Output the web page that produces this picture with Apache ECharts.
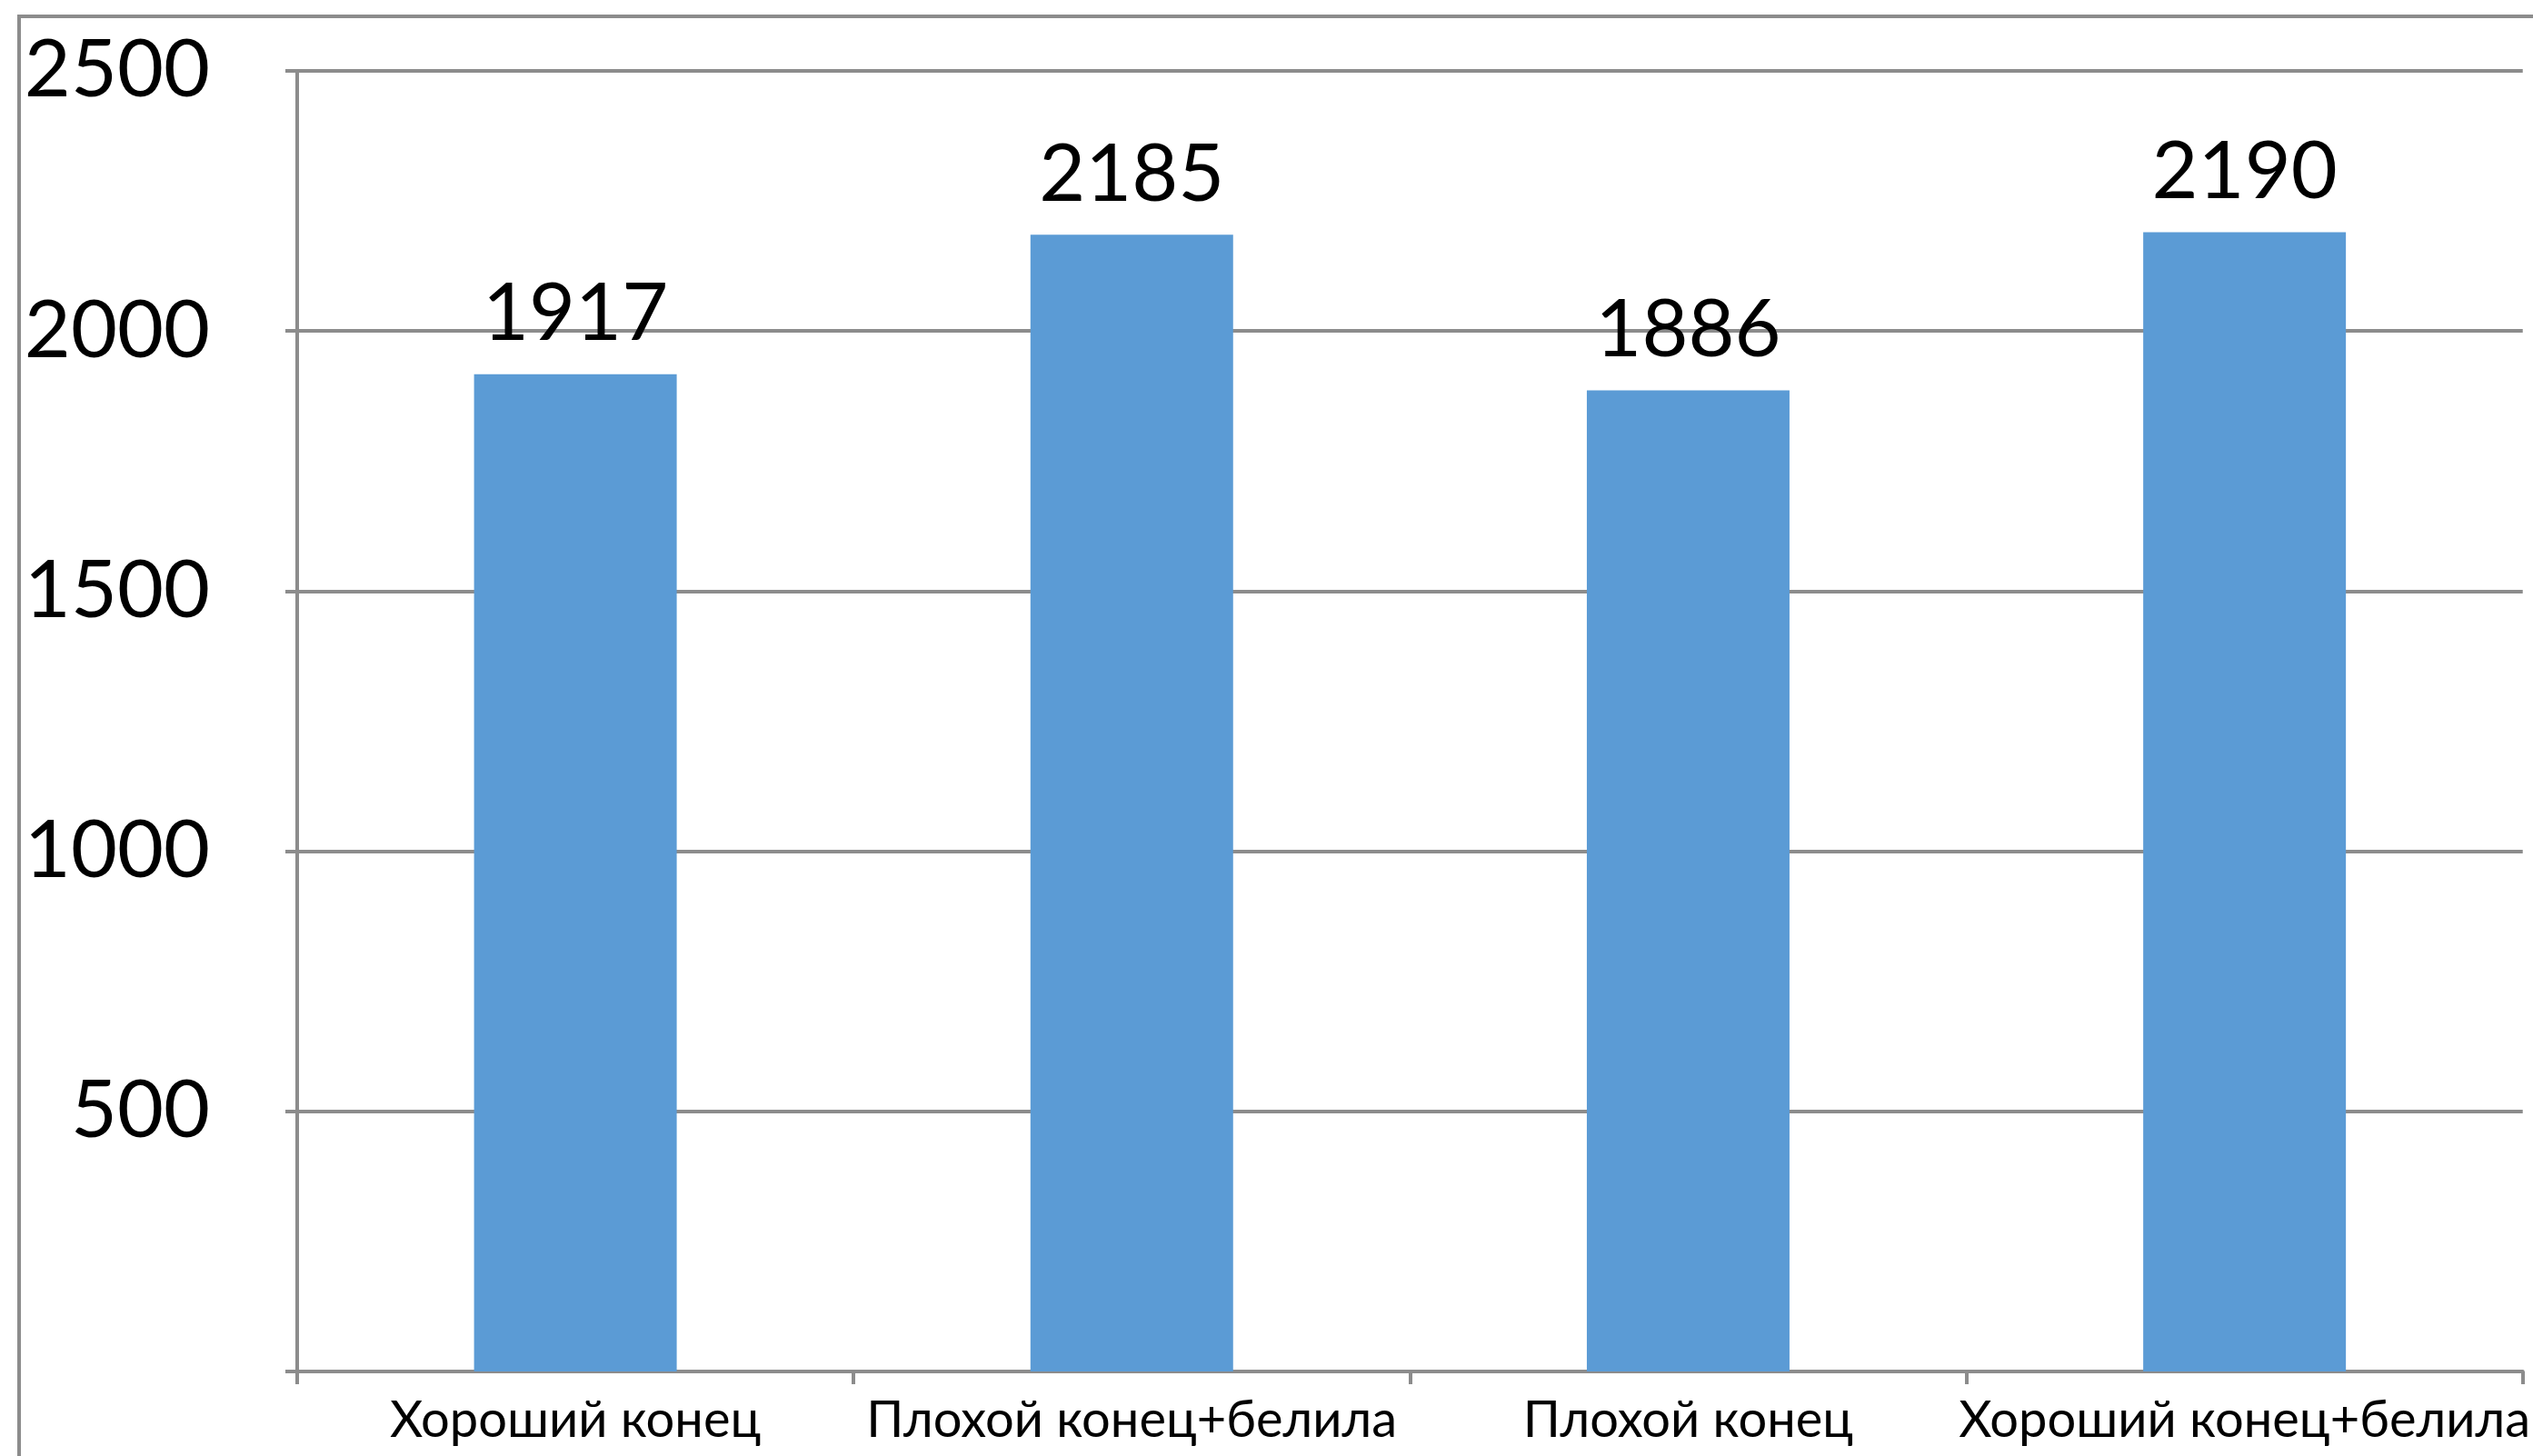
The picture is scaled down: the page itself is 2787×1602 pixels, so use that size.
<!DOCTYPE html>
<html>
<head>
<meta charset="utf-8">
<script src="https://cdn.jsdelivr.net/npm/echarts@6/dist/echarts.min.js"></script>
<style>
  html, body { margin: 0; padding: 0; background: #fff; }
  #chart { width: 2787px; height: 1602px; }
</style>
</head>
<body>
<div id="chart"></div>
<script>
const categories = ['Хороший конец', 'Плохой конец+белила', 'Плохой конец', 'Хороший конец+белила'];
const values = [1917, 2185, 1886, 2190];

let myChart = echarts.init(document.getElementById('chart'));
let option = {
    backgroundColor: '#ffffff',
    textStyle: { fontFamily: 'Lato' },
    graphic: [
        {
            type: 'rect',
            z: -10,
            shape: { x: 21, y: 18, width: 3000, height: 3000 },
            style: { fill: 'none', stroke: '#8c8c8c', lineWidth: 4 }
        }
    ],
    grid: {
        left: 327,
        right: 11,
        top: 78,
        bottom: 93,
        containLabel: false
    },
    xAxis: {
        type: 'category',
        data: categories,
        boundaryGap: true,
        axisLine: { show: true, lineStyle: { color: '#8c8c8c', width: 4 } },
        axisTick: { show: true, alignWithLabel: false, length: 14, lineStyle: { color: '#8c8c8c', width: 4 } },
        axisLabel: {
            color: '#000',
            fontSize: 56,
            fontFamily: 'Lato',
            margin: 26,
            interval: 0
        }
    },
    yAxis: {
        type: 'value',
        min: 0,
        max: 2500,
        interval: 500,
        axisLine: { show: true, lineStyle: { color: '#8c8c8c', width: 4 } },
        axisTick: { show: true, length: 13, lineStyle: { color: '#8c8c8c', width: 4 } },
        splitLine: { show: true, lineStyle: { color: '#8c8c8c', width: 4 } },
        axisLabel: {
            color: '#000',
            fontSize: 88,
            fontFamily: 'Lato',
            margin: 96,
            formatter: function (v) { return v === 0 ? '' : String(v); }
        }
    },
    series: [
        {
            type: 'bar',
            data: values,
            barWidth: 223,
            itemStyle: { color: '#5b9bd5' },
            label: {
                show: true,
                position: 'top',
                distance: 22,
                color: '#000',
                fontSize: 88,
                fontFamily: 'Lato'
            }
        }
    ]
};
myChart.setOption(option);
</script>
</body>
</html>
